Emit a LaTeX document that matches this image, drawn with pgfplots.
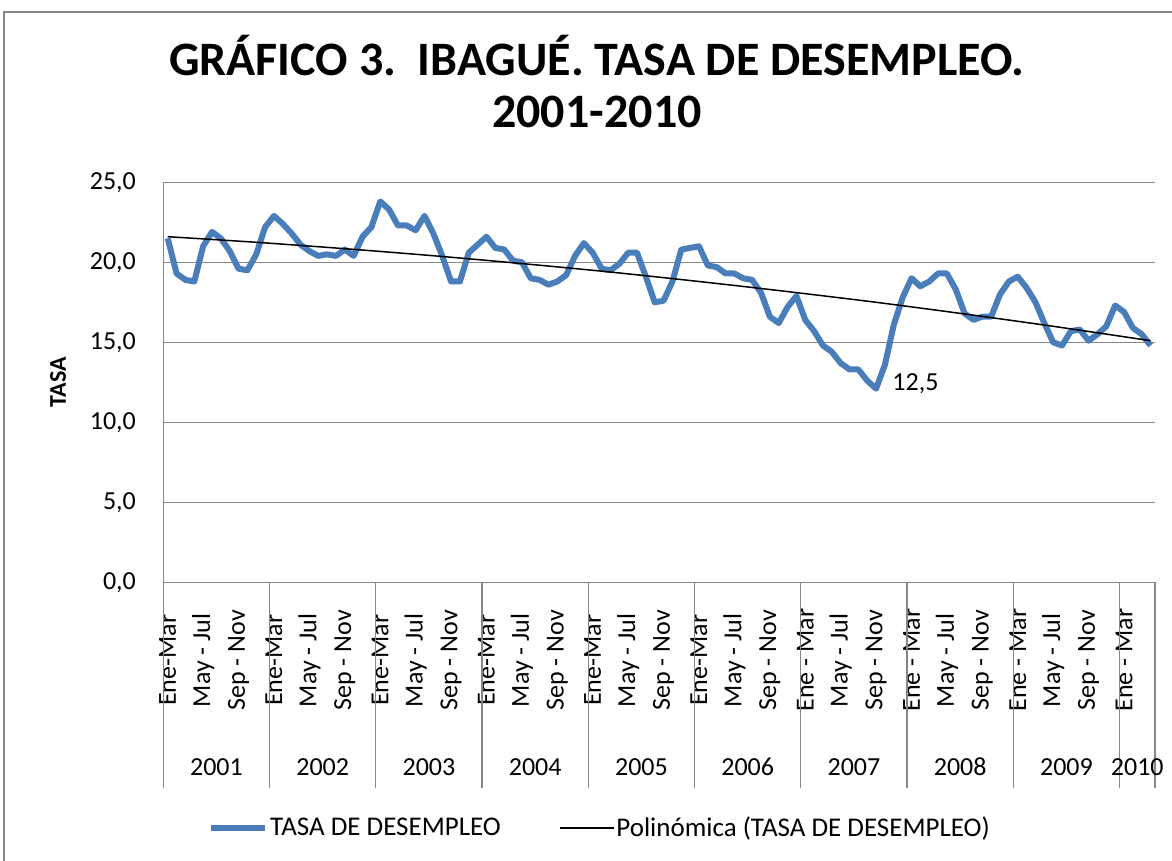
\documentclass[border=0pt]{standalone}
\usepackage{pgfplots}
\pgfplotsset{compat=1.18}
\usepackage{pgfplotstable}
\usepackage{fontspec}
\setmainfont{Carlito}

\definecolor{serieblue}{HTML}{4A7EBB}
\definecolor{gridgray}{HTML}{868686}

% tasa de desempleo, trimestres moviles 2001 Ene-Mar ... 2010 Abr-Jun
\pgfplotstableread{
i v
0 21.5
1 19.3
2 18.9
3 18.8
4 21.0
5 21.9
6 21.5
7 20.7
8 19.6
9 19.5
10 20.5
11 22.2
12 22.9
13 22.4
14 21.8
15 21.1
16 20.7
17 20.4
18 20.5
19 20.4
20 20.8
21 20.4
22 21.6
23 22.2
24 23.8
25 23.3
26 22.3
27 22.3
28 22.0
29 22.9
30 21.8
31 20.4
32 18.8
33 18.8
34 20.6
35 21.1
36 21.6
37 20.9
38 20.8
39 20.1
40 20.0
41 19.0
42 18.9
43 18.6
44 18.8
45 19.2
46 20.4
47 21.2
48 20.6
49 19.6
50 19.5
51 19.9
52 20.6
53 20.6
54 19.1
55 17.5
56 17.6
57 18.8
58 20.8
59 20.9
60 21.0
61 19.8
62 19.7
63 19.3
64 19.3
65 19.0
66 18.9
67 18.1
68 16.6
69 16.2
70 17.2
71 17.9
72 16.4
73 15.7
74 14.8
75 14.4
76 13.7
77 13.3
78 13.3
79 12.6
80 12.1
81 13.6
82 16.1
83 17.8
84 19.0
85 18.5
86 18.8
87 19.3
88 19.3
89 18.3
90 16.8
91 16.4
92 16.6
93 16.6
94 18.0
95 18.8
96 19.1
97 18.4
98 17.5
99 16.2
100 15.0
101 14.8
102 15.7
103 15.8
104 15.1
105 15.5
106 16.0
107 17.3
108 16.9
109 15.9
110 15.5
111 14.8
}\tasa

% linea de tendencia polinomica
\pgfplotstableread{
i v
0 21.60
10 21.25
20 20.85
30 20.41
40 19.92
50 19.39
60 18.80
70 18.17
80 17.50
90 16.77
100 16.00
111 15.10
}\tendencia

\begin{document}
\begin{tikzpicture}
\path[use as bounding box] (0,0) rectangle (586pt,430.5pt);
\draw[gridgray, line width=0.6pt] (2pt,-1pt) -- (2pt,424.5pt) -- (590pt,424.5pt);
\begin{axis}[
    at={(81.65pt,139.35pt)}, anchor=south west,
    scale only axis, width=495.85pt, height=200pt,
    clip=false,
    xmin=-0.5, xmax=111.5, ymin=0, ymax=25,
    axis lines*=left,
    axis line style={gridgray, line width=0.6pt},
    ymajorgrids, grid style={gridgray, line width=0.6pt},
    ytick={0,5,...,25},
    major tick length=0pt,
    /pgf/number format/fixed,
    /pgf/number format/fixed zerofill,
    /pgf/number format/precision=1,
    /pgf/number format/use comma,
    /pgf/number format/assume math mode=true,
    tick label style={font=\fontsize{13}{15}\selectfont},
    yticklabel style={anchor=east, inner sep=0pt, xshift=-13.5pt},
    xtick={0,4,...,108},
    xticklabels={Ene-Mar,May - Jul,Sep - Nov,Ene-Mar,May - Jul,Sep - Nov,
      Ene-Mar,May - Jul,Sep - Nov,Ene-Mar,May - Jul,Sep - Nov,
      Ene-Mar,May - Jul,Sep - Nov,Ene-Mar,May - Jul,Sep - Nov,
      Ene - Mar,May - Jul,Sep - Nov,Ene - Mar,May - Jul,Sep - Nov,
      Ene - Mar,May - Jul,Sep - Nov,Ene - Mar},
    xticklabel style={yshift=-39pt, rotate=90, anchor=center, inner sep=0pt},
    extra x ticks={-0.5,11.5,23.5,35.5,47.5,59.5,71.5,83.5,95.5,107.5,111.5},
    extra x tick labels={},
    extra x tick style={grid=none, major tick length=103pt, tick align=outside,
      tick style={draw=gridgray, line width=0.6pt}},
    ylabel={\textbf{TASA}},
    ylabel style={at={(axis description cs:-0.1062,0.5)}, anchor=center,
      font=\fontsize{12}{14}\selectfont},
    title={GRÁFICO 3.\ \ IBAGUÉ. TASA DE DESEMPLEO.\\2001-2010},
    title style={at={(axis description cs:0.4373,1.222)}, anchor=center,
      align=center, font=\fontsize{24}{26}\selectfont\bfseries},
    legend columns=2,
    legend style={at={(axis description cs:0.4404,-0.614)}, anchor=center,
      draw=none, fill=none, font=\fontsize{13.5}{15}\selectfont,
      /tikz/every even column/.append style={column sep=28pt},
      nodes={inner sep=1pt}},
    legend image code/.code={\draw[#1] (0pt,0pt) -- (27pt,0pt);},
  ]
  \addplot[serieblue, line width=3pt, line join=round] table[x=i, y=v] {\tasa};
  \addlegendentry{TASA DE DESEMPLEO}
  \addplot[black, line width=0.75pt, smooth] table[x=i, y=v] {\tendencia};
  \addlegendentry{Polinómica (TASA DE DESEMPLEO)}
  \node[anchor=west, font=\fontsize{13}{15}\selectfont, inner sep=0pt]
    at (axis cs:80,12.1) [xshift=8pt, yshift=2.5pt] {12,5};
  \node[font=\fontsize{13}{15}\selectfont] at (axis cs:5.5,0) [yshift=-92.3pt] {2001};
  \node[font=\fontsize{13}{15}\selectfont] at (axis cs:17.5,0) [yshift=-92.3pt] {2002};
  \node[font=\fontsize{13}{15}\selectfont] at (axis cs:29.5,0) [yshift=-92.3pt] {2003};
  \node[font=\fontsize{13}{15}\selectfont] at (axis cs:41.5,0) [yshift=-92.3pt] {2004};
  \node[font=\fontsize{13}{15}\selectfont] at (axis cs:53.5,0) [yshift=-92.3pt] {2005};
  \node[font=\fontsize{13}{15}\selectfont] at (axis cs:65.5,0) [yshift=-92.3pt] {2006};
  \node[font=\fontsize{13}{15}\selectfont] at (axis cs:77.5,0) [yshift=-92.3pt] {2007};
  \node[font=\fontsize{13}{15}\selectfont] at (axis cs:89.5,0) [yshift=-92.3pt] {2008};
  \node[font=\fontsize{13}{15}\selectfont] at (axis cs:101.5,0) [yshift=-92.3pt] {2009};
  \node[font=\fontsize{13}{15}\selectfont] at (axis cs:109.5,0) [yshift=-92.3pt] {2010};
\end{axis}
\end{tikzpicture}
\end{document}
